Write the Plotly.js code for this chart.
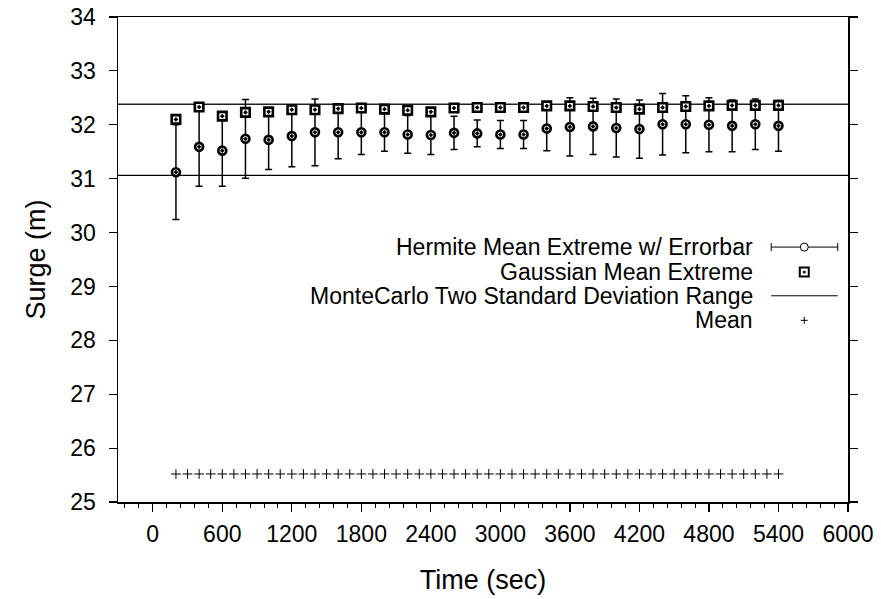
<!DOCTYPE html>
<html>
<head>
<meta charset="utf-8">
<script src="https://cdn.plot.ly/plotly-3.0.1.min.js"></script>
<style>
html,body{margin:0;padding:0;background:#fff;}
#chart{width:881px;height:599px;}
</style>
</head>
<body>
<div id="chart"></div>
<script>
// ---- data ----
var timeSec = [200, 400, 600, 800, 1000, 1200, 1400, 1600, 1800, 2000, 2200, 2400, 2600, 2800,
               3000, 3200, 3400, 3600, 3800, 4000, 4200, 4400, 4600, 4800, 5000, 5200, 5400];
var hermiteMean = [31.12, 31.59, 31.52, 31.74, 31.72, 31.79, 31.86, 31.86, 31.86, 31.86, 31.82, 31.81, 31.85, 31.84,
                   31.82, 31.82, 31.93, 31.96, 31.97, 31.94, 31.92, 32.01, 32.01, 32.00, 31.98, 32.01, 31.98];
var hermiteErr = [0.88, 0.73, 0.66, 0.73, 0.55, 0.57, 0.62, 0.49, 0.41, 0.35, 0.35, 0.36, 0.31, 0.25,
                  0.26, 0.26, 0.41, 0.54, 0.52, 0.54, 0.54, 0.57, 0.53, 0.50, 0.48, 0.47, 0.47];
var gaussianMean = [32.10, 32.33, 32.16, 32.23, 32.24, 32.28, 32.28, 32.30, 32.31, 32.29, 32.27, 32.24, 32.31, 32.32,
                    32.32, 32.32, 32.35, 32.35, 32.34, 32.32, 32.29, 32.32, 32.34, 32.35, 32.36, 32.36, 32.36];
var mcUpper = 32.38;
var mcLower = 31.06;
var meanTime = [200, 300, 400, 500, 600, 700, 800, 900, 1000, 1100, 1200, 1300, 1400, 1500, 1600, 1700, 1800,
                1900, 2000, 2100, 2200, 2300, 2400, 2500, 2600, 2700, 2800, 2900, 3000, 3100, 3200, 3300, 3400,
                3500, 3600, 3700, 3800, 3900, 4000, 4100, 4200, 4300, 4400, 4500, 4600, 4700, 4800, 4900, 5000,
                5100, 5200, 5300, 5400];
var meanSurge = [25.52, 25.52, 25.52, 25.52, 25.52, 25.52, 25.52, 25.52, 25.52, 25.52, 25.52, 25.52, 25.52,
                 25.52, 25.52, 25.52, 25.52, 25.52, 25.52, 25.52, 25.52, 25.52, 25.52, 25.52, 25.52, 25.52,
                 25.52, 25.52, 25.52, 25.52, 25.52, 25.52, 25.52, 25.52, 25.52, 25.52, 25.52, 25.52, 25.52,
                 25.52, 25.52, 25.52, 25.52, 25.52, 25.52, 25.52, 25.52, 25.52, 25.52, 25.52, 25.52, 25.52, 25.52];
var legendLabels = ["Hermite Mean Extreme w/ Errorbar", "Gaussian Mean Extreme",
                    "MonteCarlo Two Standard Deviation Range", "Mean"];
var xRange = [-300, 6000];
var yRange = [25, 34];
var xTickVals = [0, 600, 1200, 1800, 2400, 3000, 3600, 4200, 4800, 5400, 6000];
var yTickVals = [25, 26, 27, 28, 29, 30, 31, 32, 33, 34];

// ---- traces ----
var FONT = "Liberation Sans, Arial, Helvetica, sans-serif";
var traces = [
  {x: [xRange[0], xRange[1]], y: [mcUpper, mcUpper], mode: "lines", line: {color: "#222", width: 1.4},
   hoverinfo: "skip", showlegend: false},
  {x: [xRange[0], xRange[1]], y: [mcLower, mcLower], mode: "lines", line: {color: "#000", width: 1.2},
   hoverinfo: "skip", showlegend: false},
  {x: timeSec, y: hermiteMean, mode: "markers", name: legendLabels[0],
   error_y: {type: "data", array: hermiteErr, visible: true, color: "#000", thickness: 1.5, width: 3.5},
   marker: {symbol: "circle-dot", size: 8, color: "#fff", line: {color: "#000", width: 2.6}}},
  {x: timeSec, y: gaussianMean, mode: "markers", name: legendLabels[1],
   marker: {symbol: "square-dot", size: 8.5, color: "#fff", line: {color: "#000", width: 2.6}}},
  {x: meanTime, y: meanSurge, mode: "markers", name: legendLabels[3],
   marker: {symbol: "cross-thin-open", size: 7, color: "#000", line: {color: "#000", width: 1}}}
];

// ---- hand-made gnuplot-style key (text left of sample) ----
var keyTextX = 0.8729, keyL = 0.8948, keyR = 0.9859, keyM = 0.9401;
var keyY = [0.5256, 0.4740, 0.4252, 0.3746];
var annotations = legendLabels.map(function (t, i) {
  return {text: t, xref: "paper", yref: "paper", x: keyTextX, y: keyY[i], xanchor: "right", yanchor: "middle",
          showarrow: false, font: {family: FONT, size: 23, color: "#000"}};
});
function pxShape(type, xa, ya, x0, x1, y0, y1, extra) {
  var s = {type: type, xref: "paper", yref: "paper", xsizemode: "pixel", ysizemode: "pixel",
           xanchor: xa, yanchor: ya, x0: x0, x1: x1, y0: y0, y1: y1, line: {color: "#000", width: 1}};
  for (var k in extra) s[k] = extra[k];
  return s;
}
var shapes = [
  {type: "line", xref: "paper", yref: "paper", x0: keyL, x1: keyR, y0: keyY[0], y1: keyY[0], line: {color: "#000", width: 1}},
  pxShape("line", keyL, keyY[0], 0, 0, -4, 4, {}),
  pxShape("line", keyR, keyY[0], 0, 0, -4, 4, {}),
  pxShape("circle", keyM, keyY[0], -4, 4, -4, 4, {fillcolor: "#fff"}),
  pxShape("rect", keyM, keyY[1], -4.5, 4.5, -4.5, 4.5, {fillcolor: "#fff", line: {color: "#000", width: 2}}),
  pxShape("rect", keyM, keyY[1], -1, 1, -1, 1, {fillcolor: "#000", line: {color: "#000", width: 0.5}}),
  {type: "line", xref: "paper", yref: "paper", x0: keyL, x1: keyR, y0: keyY[2], y1: keyY[2], line: {color: "#000", width: 1}},
  pxShape("line", keyM, keyY[3], -3.5, 3.5, 0, 0, {}),
  pxShape("line", keyM, keyY[3], 0, 0, -3.5, 3.5, {})
];

var layout = {
  width: 881, height: 599,
  margin: {l: 118, r: 33, t: 17, b: 97, pad: 0},
  paper_bgcolor: "#fff", plot_bgcolor: "#fff",
  showlegend: false,
  font: {family: FONT, color: "#000"},
  xaxis: {range: xRange, tickvals: xTickVals, ticks: "outside", ticklen: 8, tickwidth: 1.2, tickcolor: "#000",
          minor: {dtick: 120, tick0: 0, ticks: "outside", ticklen: 4, tickwidth: 1, tickcolor: "#000", showgrid: false},
          showline: true, linecolor: "#000", linewidth: 1.5, mirror: true, showgrid: false, zeroline: false,
          tickfont: {family: FONT, size: 23}, ticklabelstandoff: 3,
          title: {text: "Time (sec)", font: {family: FONT, size: 27}, standoff: 24}},
  yaxis: {range: yRange, tickvals: yTickVals, ticks: "outside", ticklen: 8, tickwidth: 1.2, tickcolor: "#000",
          showline: true, linecolor: "#000", linewidth: 1.5, mirror: "ticks", showgrid: false, zeroline: false,
          tickfont: {family: FONT, size: 23}, ticklabelstandoff: 8,
          title: {text: "Surge (m)", font: {family: FONT, size: 27}, standoff: 17}},
  annotations: annotations,
  shapes: shapes
};

Plotly.newPlot("chart", traces, layout, {staticPlot: true, displayModeBar: false});
</script>
</body>
</html>
